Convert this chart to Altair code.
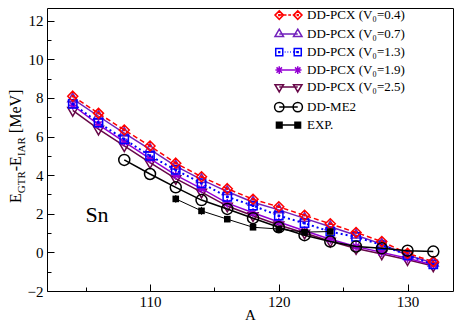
import altair as alt
import pandas as pd

FONT = "Liberation Serif, Times New Roman, DejaVu Serif, serif"

# ---------------- data ----------------
A_pcx = [104, 106, 108, 110, 112, 114, 116, 118, 120, 122, 124, 126, 128, 130, 132]
E_v04 = [8.09, 7.20, 6.34, 5.51, 4.62, 3.92, 3.30, 2.75, 2.36, 1.92, 1.48, 1.03, 0.56, -0.05, -0.48]
E_v07 = [7.95, 7.05, 6.18, 5.33, 4.47, 3.77, 3.15, 2.60, 2.20, 1.76, 1.33, 0.89, 0.43, -0.15, -0.55]
E_v13 = [7.69, 6.72, 5.86, 5.00, 4.27, 3.58, 2.88, 2.42, 1.90, 1.51, 1.07, 0.80, 0.38, -0.15, -0.62]
E_v19 = [7.62, 6.62, 5.72, 4.85, 4.00, 3.30, 2.55, 2.05, 1.57, 1.12, 0.68, 0.30, 0.00, -0.30, -0.65]
E_v25 = [7.35, 6.38, 5.52, 4.65, 3.82, 3.12, 2.40, 1.90, 1.42, 1.00, 0.58, 0.20, -0.08, -0.38, -0.70]

A_me2 = [108, 110, 112, 114, 116, 118, 120, 122, 124, 126, 128, 130, 132]
E_me2 = [4.79, 4.06, 3.37, 2.71, 2.25, 1.77, 1.30, 0.89, 0.56, 0.30, 0.21, 0.09, 0.04]

A_exp = [112, 114, 116, 118, 120, 122, 124]
E_exp = [2.77, 2.15, 1.72, 1.30, 1.21, 1.05, 1.08]
dE_exp = [0.20, 0.20, 0.15, 0.12, 0.10, 0.10, 0.10]

series_names = ["DD-PCX (V\u2080=0.4)", "DD-PCX (V\u2080=0.7)", "DD-PCX (V\u2080=1.3)",
                "DD-PCX (V\u2080=1.9)", "DD-PCX (V\u2080=2.5)", "DD-ME2", "EXP."]
series_colors = ["#ff0000", "#7221bc", "#0000ff", "#9400d3", "#670748", "#000000", "#000000"]
series_markers = ["diamond", "tri_up", "square", "star", "tri_down", "circle", "fsquare"]
series_lines = ["dashed", "solid", "dotted", "solid", "solid", "solid", "solid"]

x_ticks = [105, 110, 115, 120, 125, 130]
y_ticks = list(range(-2, 13))

# ---------------- tables ----------------
rows = []
for name, vals in zip(series_names[:5], [E_v04, E_v07, E_v13, E_v19, E_v25]):
    for a, e in zip(A_pcx, vals):
        rows.append({"A": a, "E": e, "series": name})
for a, e in zip(A_me2, E_me2):
    rows.append({"A": a, "E": e, "series": "DD-ME2"})
df = pd.DataFrame(rows)
df_exp = pd.DataFrame({"A": A_exp, "E": E_exp, "err": dE_exp, "series": "EXP."})
df_all = pd.concat([df, df_exp[["A", "E", "series"]]], ignore_index=True)

# ---------------- marker shapes (unit paths) ----------------
def _pt(x, y, s, dx):
    return f"{x * s + dx:.3f},{y * s:.3f}"

def poly(pts, s=1.0, dx=0.0):
    return "M" + "L".join(_pt(x, y, s, dx) for x, y in pts) + "Z"

def seg(p0, p1, s=1.0, dx=0.0):
    return "M" + _pt(p0[0], p0[1], s, dx) + "L" + _pt(p1[0], p1[1], s, dx)

def circ(r, s=1.0, dx=0.0):
    r = r * s
    return (f"M{dx + r:.3f},0A{r:.3f},{r:.3f},0,1,1,{dx - r:.3f},0"
            f"A{r:.3f},{r:.3f},0,1,1,{dx + r:.3f},0Z")

DOT = [(-0.1, -0.1), (0.1, -0.1), (0.1, 0.1), (-0.1, 0.1)]

def marker(kind, s=1.0, dx=0.0, hatch=False):
    if kind == "diamond":
        return poly([(0, -1), (1, 0), (0, 1), (-1, 0)], s, dx) + poly(DOT, s, dx)
    if kind == "tri_up":
        return poly([(0, -1.15), (1.0, 0.58), (-1.0, 0.58)], s, dx)
    if kind == "square":
        h = 0.83
        return poly([(-h, -h), (h, -h), (h, h), (-h, h)], s, dx) + poly(DOT, s, dx)
    if kind == "star":
        return "".join(seg(a, b, s, dx) for a, b in [((-0.9, 0), (0.9, 0)), ((0, -0.9), (0, 0.9)),
                                                     ((-0.64, -0.64), (0.64, 0.64)),
                                                     ((-0.64, 0.64), (0.64, -0.64))])
    if kind == "tri_down":
        return poly([(0, 1.15), (1.0, -0.58), (-1.0, -0.58)], s, dx)
    if kind == "circle":
        return circ(1.1, s, dx)
    if kind == "fsquare":
        h = 0.66
        p = poly([(-h, -h), (h, -h), (h, h), (-h, h)], s, dx)
        if hatch:
            yy = -h
            while yy <= h + 1e-9:
                p += seg((-h, yy), (h, yy), s, dx)
                yy += 0.25
        return p
    return ""

def legend_path(kind, style):
    L = 1.85
    p = marker(kind, 0.85, -L, hatch=True) + marker(kind, 0.85, L, hatch=True)
    if style == "solid":
        p += seg((-L, 0), (L, 0))
    elif style == "dashed":
        x = -L
        while x < L:
            p += seg((x, 0), (min(x + 0.55, L), 0))
            x += 0.9
    elif style == "dotted":
        x = -L
        while x < L:
            p += seg((x, 0), (x + 0.15, 0))
            x += 0.55
    return p

legend_paths = [legend_path(k, s) for k, s in zip(series_markers, series_lines)]

# ---------------- scales & axes ----------------
W, H = 406, 283
xscale = alt.Scale(domain=[102, 133.53], nice=False, zero=False)
yscale = alt.Scale(domain=[-2, 12.656], nice=False, zero=False)

xaxis = alt.Axis(values=x_ticks, labelExpr="datum.value % 10 == 0 ? datum.label : ''",
                 offset=-7, tickSize=7, tickWidth=1, tickColor="black",
                 tickDash={"condition": {"test": "datum.value % 10 != 0", "value": [0, 3, 4, 20]},
                           "value": [10, 0]},
                 domain=False, grid=False, labelFont=FONT, labelFontSize=15, labelColor="black",
                 labelPadding=3, labelOverlap=False, labelFlush=False,
                 title="A", titleFont=FONT, titleFontSize=15, titleFontWeight="normal",
                 titleColor="black", titlePadding=-2)
yaxis = alt.Axis(values=y_ticks, labelExpr="datum.value % 2 == 0 ? datum.label : ''",
                 offset=-7, tickSize=7, tickWidth=1, tickColor="black",
                 tickDash={"condition": {"test": "datum.value % 2 != 0", "value": [0, 3, 4, 20]},
                           "value": [10, 0]},
                 domain=False, grid=False, labelFont=FONT, labelFontSize=15, labelColor="black",
                 labelPadding=4, labelOverlap=False, labelFlush=False, title=None)

X = alt.X("A:Q", scale=xscale, axis=xaxis)
Y = alt.Y("E:Q", scale=yscale, axis=yaxis)

layers = []

def series_chart(data, name):
    return alt.Chart(data).transform_filter(alt.datum.series == name)

# lines and markers of the theory series
draw_order = [4, 3, 1, 2, 0, 5]
for i in draw_order:
    name, col, style = series_names[i], series_colors[i], series_lines[i]
    kw = dict(color=col, strokeWidth=1.5)
    if style == "dashed":
        kw["strokeDash"] = [5, 3]
    elif style == "dotted":
        kw["strokeDash"] = [2, 3]
        kw["strokeWidth"] = 2
    layers.append(series_chart(df, name).mark_line(**kw).encode(x=X, y=Y))
    layers.append(series_chart(df, name).mark_point(
        shape=marker(series_markers[i]), size=100, filled=False, color=col,
        strokeWidth=1.5, opacity=1).encode(x=X, y=Y))

# experiment
layers.append(alt.Chart(df_exp).mark_line(color="black", strokeWidth=1).encode(x=X, y=Y))
layers.append(alt.Chart(df_exp).transform_calculate(
    lo="datum.E - datum.err", hi="datum.E + datum.err").mark_rule(
    color="black", strokeWidth=1).encode(x=X, y=alt.Y("lo:Q", scale=yscale, axis=yaxis), y2="hi:Q"))
layers.append(alt.Chart(df_exp).mark_point(
    shape=marker("fsquare"), size=100, filled=True, color="black", opacity=1).encode(x=X, y=Y))

# legend carrier (no rows drawn)
leg = alt.Legend(orient="none", legendX=235, legendY=0.6, title=None, labelFont=FONT,
                 labelFontSize=13, labelColor="black", symbolSize=100, symbolStrokeWidth=1.5,
                 labelOffset=12, rowPadding=3, padding=0, labelLimit=300, symbolOffset=0)
layers.append(alt.Chart(df_all).transform_filter("false").mark_point(
    filled=False, strokeWidth=1.5, opacity=1).encode(
    x=X, y=Y,
    color=alt.Color("series:N", scale=alt.Scale(domain=series_names, range=series_colors), legend=leg),
    shape=alt.Shape("series:N", scale=alt.Scale(domain=series_names, range=legend_paths), legend=leg)))

# texts
def text_layer(t, x, y, fs, angle=0, align="left"):
    kw = dict(text=t, font=FONT, fontSize=fs, align=align, baseline="alphabetic", color="black")
    if angle:
        kw["angle"] = angle
    return alt.Chart(alt.Data(values=[{"k": 0}])).mark_text(**kw).encode(
        x=alt.value(x), y=alt.value(y))

layers.append(text_layer("Sn", 50, 213.5, 22, align="center"))

TW = {"E": 0.611, "G": 0.722, "T": 0.611, "R": 0.667, "-": 0.333, "I": 0.333, "A": 0.722,
      " ": 0.25, "[": 0.333, "M": 0.889, "e": 0.444, "V": 0.722, "]": 0.333}
ycur = 195.0
for t, fs, sh, gap in [("E", 16, 0, 0), ("GTR", 11, 4, 0), ("-E", 16, 0, 0), ("IAR", 11, 4, 0),
                       ("[MeV]", 16, 0, 4)]:
    ycur -= gap
    layers.append(text_layer(t, -26 + sh, ycur, fs, angle=270))
    ycur -= sum(TW[c] for c in t) * fs

chart = alt.layer(*layers).properties(
    width=W, height=H,
    padding={"left": 39, "top": 0, "right": 1, "bottom": 31},
    autosize=alt.AutoSizeParams(type="none"),
).configure_view(stroke="black", strokeWidth=1)

chart.save("out.html", embed_options={"renderer": "svg", "actions": False})
